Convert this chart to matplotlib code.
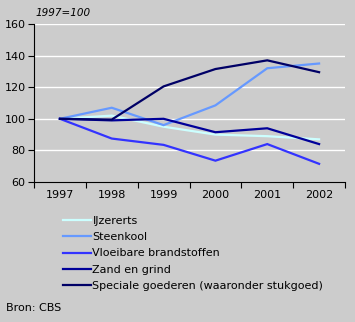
import matplotlib
matplotlib.use("Agg")
from matplotlib import pyplot as plt
from matplotlib.lines import Line2D

years = ["1997", "1998", "1999", "2000", "2001", "2002"]
ijzererts = [100, 102, 95, 90, 89, 87]
steenkool = [100, 107, 96, 108.5, 132, 135]
vloeibaar = [100, 87.5, 83.5, 73.5, 84, 71.5]
zand_grind = [100, 99, 100, 91.5, 94, 84]
speciaal = [100, 99.5, 120.5, 131.5, 137, 129.5]

series = [
    ("IJzererts", ijzererts, "#ccffff"),
    ("Steenkool", steenkool, "#6699ff"),
    ("Vloeibare brandstoffen", vloeibaar, "#3333ff"),
    ("Zand en grind", zand_grind, "#000099"),
    ("Speciale goederen (waaronder stukgoed)", speciaal, "#000066"),
]

bg = "#cccccc"
fig = plt.figure(figsize=(3.55, 3.22), dpi=100, facecolor=bg)
ax = fig.add_axes([34 / 355, 1 - 182 / 322, 311 / 355, 158 / 322], facecolor=bg)

xs = [i + 0.5 for i in range(len(years))]
for name, vals, col in series:
    ax.plot(xs, vals, color=col, lw=1.6, solid_joinstyle="miter")

ax.set_xlim(0, 6)
ax.set_ylim(60, 160)
ax.set_yticks(range(60, 161, 20))
ax.set_xticks(range(0, 7))
ax.set_xticklabels([])
ax.set_xticks(xs, minor=True)
ax.set_xticklabels(years, minor=True)
ax.tick_params(axis="x", which="minor", length=0, labelsize=8, pad=6)
ax.tick_params(axis="x", which="major", length=4, direction="out")
ax.tick_params(axis="y", length=4, direction="out", labelsize=8, pad=2)
for v in range(80, 161, 20):
    ax.axhline(v, color="white", lw=1, zorder=0)
for s in ["top", "right"]:
    ax.spines[s].set_visible(False)
ax.spines["left"].set_linewidth(0.8)
ax.spines["bottom"].set_linewidth(0.8)

fig.text(35 / 355, 1 - 13 / 322, "1997=100", fontsize=7.5, style="italic",
         va="center", ha="left")

handles = [Line2D([], [], color=c, lw=1.6) for _, _, c in series]
labels = [n for n, _, _ in series]
fig.legend(handles, labels, loc="upper left", bbox_to_anchor=(63 / 355, 1 - 216 / 322),
           frameon=False, fontsize=8, handlelength=2.5, handletextpad=0.15,
           labelspacing=0.56, borderaxespad=0, borderpad=0)

fig.text(6 / 355, 1 - 308 / 322, "Bron: CBS", fontsize=8, va="center", ha="left")

fig.savefig("out.png", dpi=100, facecolor=bg)
